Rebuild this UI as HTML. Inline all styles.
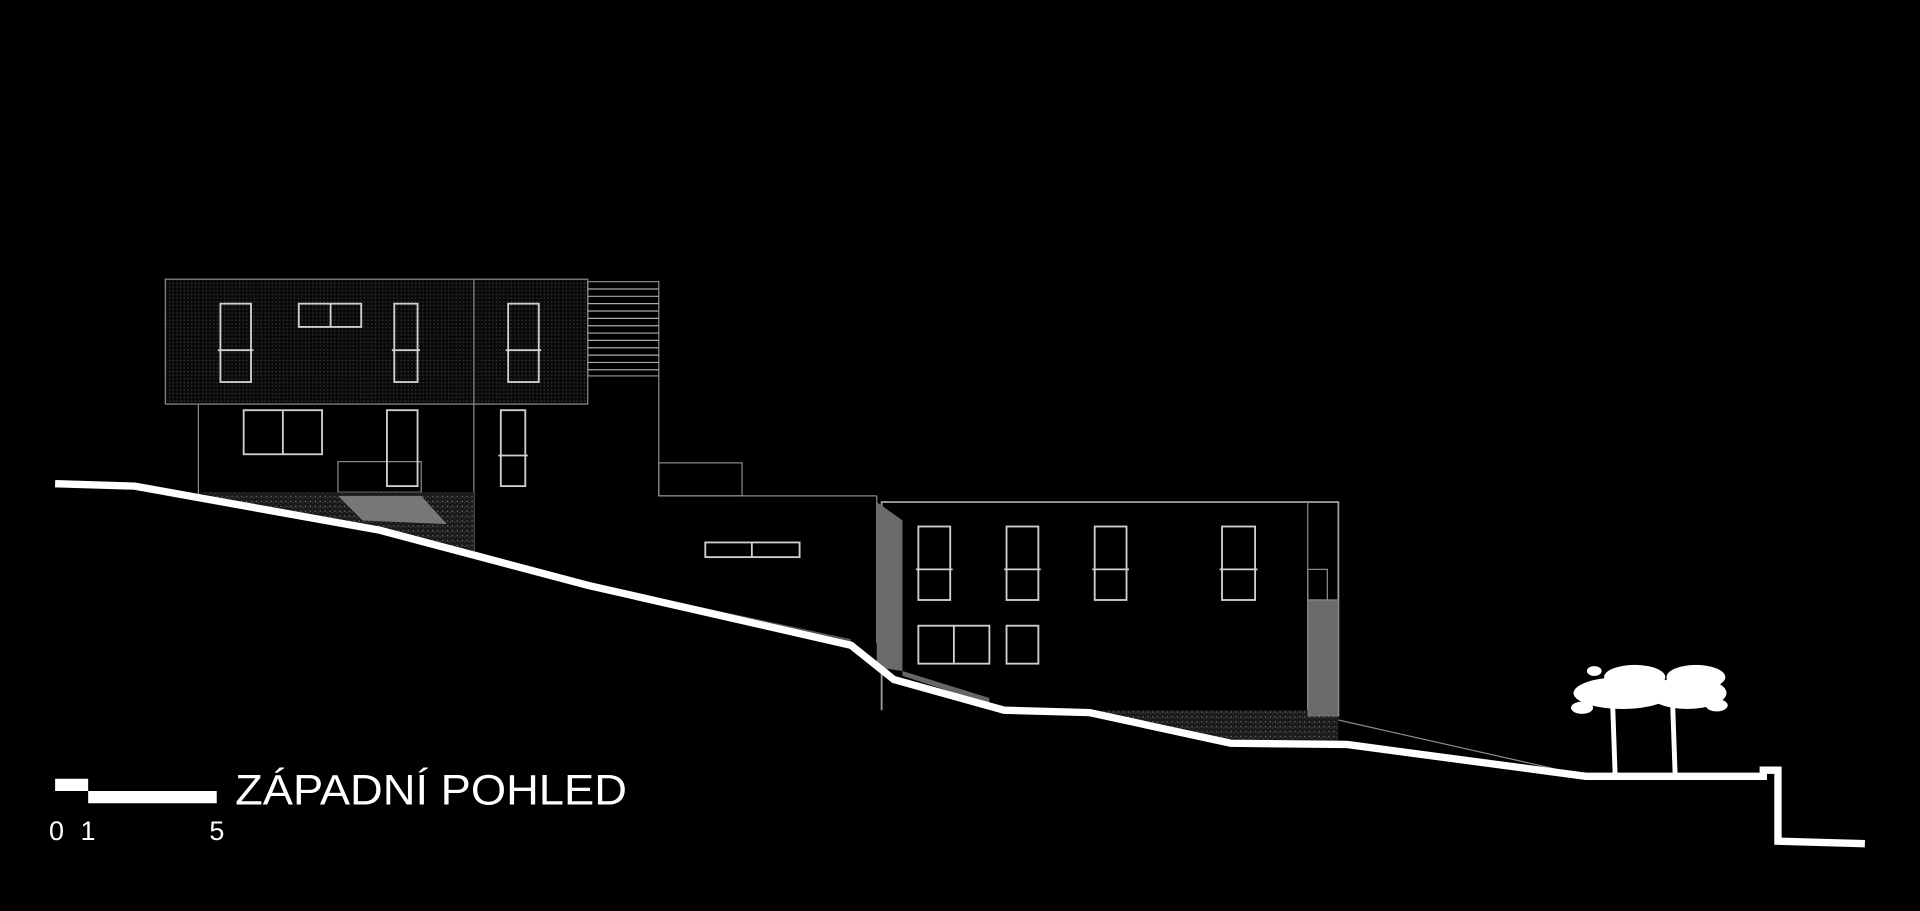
<!DOCTYPE html>
<html><head><meta charset="utf-8"><style>
html,body{margin:0;padding:0;background:#000;width:1920px;height:911px;overflow:hidden}
svg{display:block}
</style></head><body>
<svg width="1920" height="911" viewBox="0 0 1568 744" preserveAspectRatio="none" xmlns="http://www.w3.org/2000/svg">
<defs>
<pattern id="dots" width="3" height="3" patternUnits="userSpaceOnUse"><rect width="3" height="3" fill="#0a0a0a"/><rect width="1" height="1" fill="#3a3a3a"/></pattern>
<pattern id="grav" width="4" height="4" patternUnits="userSpaceOnUse"><rect width="4" height="4" fill="#1a1a1a"/><rect x="1" y="1" width="1" height="1" fill="#777"/><rect x="3" y="2" width="1" height="1" fill="#444"/></pattern>
</defs>
<rect width="1568" height="744" fill="#000"/>
<g fill="none" stroke="#8a8a8a" stroke-width="1">
<rect x="135" y="228" width="345" height="102" fill="url(#dots)"/>
<line x1="387" y1="228" x2="387" y2="450"/>
<line x1="162" y1="330" x2="162" y2="404"/>
<rect x="480" y="230" width="58" height="77"/>
<g stroke="#aaa"><line x1="480" y1="236" x2="538" y2="236"/><line x1="480" y1="242" x2="538" y2="242"/><line x1="480" y1="248" x2="538" y2="248"/><line x1="480" y1="254" x2="538" y2="254"/><line x1="480" y1="260" x2="538" y2="260"/><line x1="480" y1="266" x2="538" y2="266"/><line x1="480" y1="272" x2="538" y2="272"/><line x1="480" y1="278" x2="538" y2="278"/><line x1="480" y1="284" x2="538" y2="284"/><line x1="480" y1="290" x2="538" y2="290"/><line x1="480" y1="296" x2="538" y2="296"/><line x1="480" y1="302" x2="538" y2="302"/></g>
<line x1="538" y1="307" x2="538" y2="405"/>
<rect x="538" y="378" width="68" height="27"/>
<line x1="538" y1="405" x2="716" y2="405"/>
<line x1="716" y1="405" x2="716" y2="525"/>
<rect x="276" y="377" width="68" height="25"/>
<polyline points="720,580 720,410 1093,410 1093,585" stroke="#999" stroke-width="1.5"/>
<line x1="1068" y1="410" x2="1068" y2="585"/>
<rect x="1068" y="465" width="16" height="25"/>
<line x1="1093" y1="588" x2="1270" y2="628"/>
</g>
<polygon points="716,410 737,425 737,548 716,545" fill="#6a6a6a"/>
<rect x="1068" y="490" width="25" height="95" fill="#6a6a6a" stroke="#888"/>
<rect x="1068" y="585" width="25" height="20" fill="url(#grav)"/>
<polygon points="162,402 387,402 387,450 310,433 168,404" fill="url(#grav)"/>
<polygon points="276,405 344,405 365,428 296,425" fill="#777"/>
<polygon points="905,580 1068,580 1068,605 1005,605 890,582" fill="url(#grav)"/>
<polygon points="737,548 808,570 808,575 737,552" fill="#666"/>
<polygon points="387,450 480,476 695,522 695,526 480,480 387,453" fill="#555"/>
<g fill="none" stroke="#d0d0d0" stroke-width="1.5">
<rect x="180" y="248" width="25" height="64"/><line x1="178" y1="286" x2="207" y2="286"/>
<rect x="244" y="248" width="51" height="19"/><line x1="270" y1="248" x2="270" y2="267"/>
<rect x="322" y="248" width="19" height="64"/><line x1="320" y1="286" x2="343" y2="286"/>
<rect x="415" y="248" width="25" height="64"/><line x1="413" y1="286" x2="442" y2="286"/>
<rect x="199" y="335" width="64" height="36"/><line x1="231" y1="335" x2="231" y2="371"/>
<rect x="316" y="335" width="25" height="62"/>
<rect x="409" y="335" width="20" height="62"/><line x1="407" y1="372" x2="431" y2="372"/>
<rect x="576" y="443" width="77" height="12"/><line x1="614" y1="443" x2="614" y2="455"/>
<rect x="750" y="430" width="26" height="60"/><line x1="748" y1="465" x2="778" y2="465"/>
<rect x="822" y="430" width="26" height="60"/><line x1="820" y1="465" x2="850" y2="465"/>
<rect x="894" y="430" width="26" height="60"/><line x1="892" y1="465" x2="922" y2="465"/>
<rect x="998" y="430" width="27" height="60"/><line x1="996" y1="465" x2="1027" y2="465"/>
<rect x="750" y="511" width="58" height="31"/><line x1="779" y1="511" x2="779" y2="542"/>
<rect x="822" y="511" width="26" height="31"/>
</g>
<polyline points="45,395 110,397 310,433 480,478 695,527 730,555 820,580 890,582 1005,607 1100,608 1295,634 1440,634 1440,629 1452,629 1452,687 1523,689" fill="none" stroke="#fff" stroke-width="6" stroke-linejoin="miter"/>
<g fill="#fff">
<ellipse cx="1325" cy="566" rx="40" ry="13"/>
<ellipse cx="1378" cy="566" rx="32" ry="13"/>
<ellipse cx="1335" cy="553" rx="25" ry="10"/>
<ellipse cx="1385" cy="553" rx="24" ry="10"/>
<ellipse cx="1292" cy="578" rx="9" ry="5"/>
<ellipse cx="1302" cy="548" rx="6" ry="4"/>
<ellipse cx="1402" cy="576" rx="9" ry="5"/>
<polygon points="1315,575 1319,575 1321,632 1317,632"/>
<polygon points="1364,575 1368,575 1370,632 1366,632"/>
</g>
<rect x="45" y="636" width="27" height="10" fill="#fff"/>
<rect x="72" y="646" width="105" height="10" fill="#fff"/>
<text x="192" y="657" fill="#fff" font-family="Liberation Sans, sans-serif" font-size="35" textLength="320" lengthAdjust="spacingAndGlyphs">ZÁPADNÍ POHLED</text>
<text x="40" y="686" fill="#fff" font-family="Liberation Sans, sans-serif" font-size="22" textLength="38" lengthAdjust="spacing">0 1</text>
<text x="171" y="686" fill="#fff" font-family="Liberation Sans, sans-serif" font-size="22">5</text>
</svg>
</body></html>
